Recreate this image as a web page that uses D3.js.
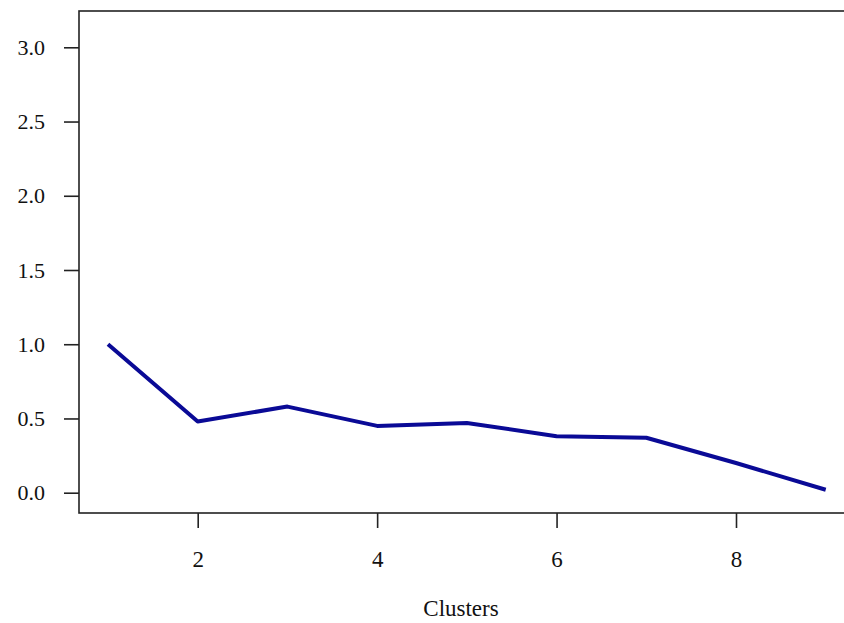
<!DOCTYPE html>
<html lang="en">
  <head>
    <meta charset="UTF-8" />
    <title>Clusters</title>
    <script src="https://d3js.org/d3.v7.min.js"></script>
    <style>
      body { margin: 0; background: #fff; }
      svg text { font-family: "Liberation Serif", "Times New Roman", serif; fill: #111; }
    </style>
  </head>
  <body>
    <svg width="844" height="623"></svg>

    <script>
      // data
      const clusters = [1, 2, 3, 4, 5, 6, 7, 8, 9];
      const values = [1.0, 0.48, 0.58, 0.45, 0.47, 0.38, 0.37, 0.2, 0.02];
      const xTicks = [2, 4, 6, 8];
      const yTicks = [0, 0.5, 1.0, 1.5, 2.0, 2.5, 3.0];

      const svg = d3.select("svg");

      // plot box (right side runs off the picture)
      const box = { left: 79, top: 11, right: 852, bottom: 513 };

      const x = d3.scaleLinear().domain([2, 8]).range([197.7, 736]);
      const y = d3.scaleLinear().domain([0, 3]).range([492.7, 47.3]);

      svg.append("rect")
        .attr("x", box.left)
        .attr("y", box.top)
        .attr("width", box.right - box.left)
        .attr("height", box.bottom - box.top)
        .attr("fill", "none")
        .attr("stroke", "#222")
        .attr("stroke-width", 1.6);

      // y axis
      const yAxis = d3.axisLeft(y)
        .tickValues(yTicks)
        .tickFormat(d3.format(".1f"))
        .tickSize(15)
        .tickPadding(19);
      const gy = svg.append("g")
        .attr("transform", `translate(${box.left},0)`)
        .call(yAxis);
      gy.select(".domain").remove();
      gy.selectAll(".tick line").attr("stroke", "#222").attr("stroke-width", 1.6);
      gy.selectAll(".tick text")
        .attr("font-size", 22)
        .attr("fill", "#111")
        .style("font-family", "'Liberation Serif', serif");

      // x axis
      const xAxis = d3.axisBottom(x)
        .tickValues(xTicks)
        .tickFormat(d3.format("d"))
        .tickSize(15)
        .tickPadding(23);
      const gx = svg.append("g")
        .attr("transform", `translate(0,${box.bottom})`)
        .call(xAxis);
      gx.select(".domain").remove();
      gx.selectAll(".tick line").attr("stroke", "#222").attr("stroke-width", 1.6);
      gx.selectAll(".tick text")
        .attr("font-size", 23)
        .attr("fill", "#111")
        .style("font-family", "'Liberation Serif', serif");

      svg.append("text")
        .attr("x", 461)
        .attr("y", 616)
        .attr("text-anchor", "middle")
        .attr("font-size", 23)
        .text("Clusters");

      // line
      const line = d3.line()
        .x((d, i) => x(clusters[i]))
        .y(d => y(d));

      svg.append("path")
        .datum(values)
        .attr("d", line)
        .attr("fill", "none")
        .attr("stroke", "#0a0a96")
        .attr("stroke-width", 4)
        .attr("stroke-linejoin", "round");
    </script>
  </body>
</html>
